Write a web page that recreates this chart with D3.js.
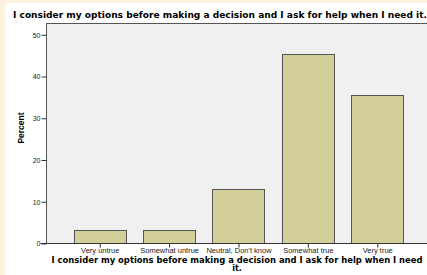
<!DOCTYPE html>
<html>
<head>
<meta charset="utf-8">
<script src="https://cdn.jsdelivr.net/npm/d3@7"></script>
<style>
  body { margin: 0; background: #fdf2e0; }
  svg { display: block; }
</style>
</head>
<body>
<div id="chart"></div>
<script>
// Chart data
var categories = ["Very untrue", "Somewhat untrue", "Neutral, Don't know", "Somewhat true", "Very true"];
var percents = [3.2, 3.2, 12.9, 45.2, 35.5];
var yTicks = [0, 10, 20, 30, 40, 50];

var titleText = "I consider my options before making a decision and I ask for help when I need it.";
var xTitleLine1 = "I consider my options before making a decision and I ask for help when I need";
var xTitleLine2 = "it.";

var svgWidth = 427;
var svgHeight = 275;

// plot area
var plot = { left: 46, top: 23, right: 431, bottom: 243 };

var svg = d3.select("#chart")
  .append("svg")
  .attr("width", svgWidth)
  .attr("height", svgHeight);

// white panel inside the cream frame
svg.append("rect")
  .attr("x", 5).attr("y", 3)
  .attr("width", svgWidth - 5).attr("height", svgHeight - 3)
  .attr("fill", "#ffffff");

// scales
var x = d3.scaleBand()
  .domain(categories)
  .range([plot.left, plot.right])
  .paddingInner(0.25)
  .paddingOuter(0.4);

var y = d3.scaleLinear()
  .domain([0, 52.7])
  .range([plot.bottom, plot.top]);

// plot background
svg.append("rect")
  .attr("x", plot.left + 0.5).attr("y", plot.top + 0.5)
  .attr("width", plot.right - plot.left).attr("height", plot.bottom - plot.top)
  .attr("fill", "#f0f0f0")
  .attr("stroke", "#555")
  .attr("stroke-width", 1);

// bars
svg.selectAll(".bar")
  .data(percents)
  .enter()
  .append("rect")
  .attr("class", "bar")
  .attr("x", (d, i) => Math.round(x(categories[i])) + 0.5)
  .attr("y", d => Math.round(y(d)) + 0.5)
  .attr("width", Math.round(x.bandwidth()))
  .attr("height", d => plot.bottom - Math.round(y(d)))
  .attr("fill", "#d3cf98")
  .attr("stroke", "#555")
  .attr("stroke-width", 1);

// axes
var leftAxis = d3.axisLeft(y).tickValues(yTicks).tickSize(5).tickPadding(1);
var bottomAxis = d3.axisBottom(x).tickSize(4).tickPadding(0);

var yg = svg.append("g")
  .attr("transform", `translate(${plot.left + 0.5}, 0.5)`)
  .call(leftAxis);
yg.select(".domain").remove();

var xg = svg.append("g")
  .attr("transform", `translate(0.5, ${plot.bottom + 0.5})`)
  .call(bottomAxis);
xg.select(".domain").attr("d", `M${plot.left - 6},0H${svgWidth}`);

svg.selectAll(".tick line").attr("stroke", "#333");
svg.selectAll(".domain").attr("stroke", "#333");
svg.selectAll(".tick text")
  .attr("font-family", "Liberation Sans, Arial, sans-serif")
  .attr("font-size", 7)
  .attr("fill", "#222");
xg.selectAll(".tick text").attr("font-size", 7.5);

// titles
svg.append("text")
  .attr("x", 13).attr("y", 18)
  .attr("font-family", "DejaVu Sans, sans-serif")
  .attr("font-weight", "bold")
  .attr("font-size", 8)
  .attr("textLength", 414)
  .attr("lengthAdjust", "spacingAndGlyphs")
  .text(titleText);

svg.append("text")
  .attr("x", 237).attr("y", 262.5)
  .attr("text-anchor", "middle")
  .attr("font-family", "DejaVu Sans, sans-serif")
  .attr("font-weight", "bold")
  .attr("font-size", 8)
  .attr("textLength", 371)
  .attr("lengthAdjust", "spacingAndGlyphs")
  .text(xTitleLine1);

svg.append("text")
  .attr("x", 237).attr("y", 270.5)
  .attr("text-anchor", "middle")
  .attr("font-family", "DejaVu Sans, sans-serif")
  .attr("font-weight", "bold")
  .attr("font-size", 8)
  .text(xTitleLine2);

svg.append("text")
  .attr("transform", "translate(24, 128) rotate(-90)")
  .attr("text-anchor", "middle")
  .attr("font-family", "Liberation Sans, Arial, sans-serif")
  .attr("font-weight", "bold")
  .attr("font-size", 8.5)
  .text("Percent");
</script>
</body>
</html>
